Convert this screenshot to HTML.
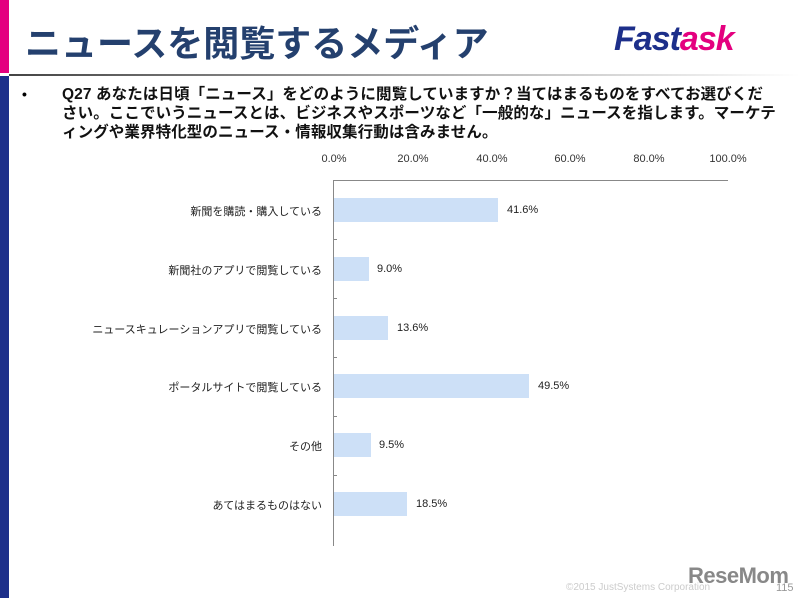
<!DOCTYPE html>
<html><head><meta charset="utf-8"><style>
body{margin:0;width:800px;height:598px;overflow:hidden;background:#fff;position:relative;font-family:"Liberation Sans","Noto Sans CJK JP",sans-serif}
.a{position:absolute}
.lab{position:absolute;right:478px;font-size:11px;color:#222;white-space:nowrap}
.bar{position:absolute;left:334px;height:24px;background:#cde0f7}
.val{position:absolute;font-size:11px;color:#222}
.tk{position:absolute;top:153px;font-size:11px;color:#333;width:60px;text-align:center}
</style></head><body>
<div class="a" style="left:0;top:0;width:9px;height:73px;background:#e4007f"></div>
<div class="a" style="left:0;top:76px;width:9px;height:522px;background:#1d2f8a"></div>
<div class="a" style="left:9px;top:74px;width:791px;height:2px;background:linear-gradient(90deg,#444,#aaa 50%,#fff)"></div>
<div class="a" style="left:25px;top:15px;font-size:36px;font-weight:bold;color:#24406e;letter-spacing:0px">ニュースを閲覧するメディア</div>
<div class="a" style="left:614px;top:20px;font-size:34px;font-weight:bold;letter-spacing:-1px;font-style:italic;font-family:'Liberation Sans',sans-serif"><span style="color:#1d2f8a">Fast</span><span style="color:#e4007f">ask</span></div>
<div class="a" style="left:22px;top:86px;font-size:14px;font-weight:bold">•</div>
<div class="a" style="left:62px;top:85px;width:740px;font-size:15.5px;letter-spacing:0.1px;font-weight:bold;line-height:19px;color:#111;white-space:nowrap">Q27 あなたは日頃「ニュース」をどのように閲覧していますか？当てはまるものをすべてお選びくだ<br>さい。ここでいうニュースとは、ビジネスやスポーツなど「一般的な」ニュースを指します。マーケテ<br>ィングや業界特化型のニュース・情報収集行動は含みません。</div>
<div class="tk" style="left:304px">0.0%</div><div class="tk" style="left:383px">20.0%</div><div class="tk" style="left:462px">40.0%</div><div class="tk" style="left:540px">60.0%</div><div class="tk" style="left:619px">80.0%</div><div class="tk" style="left:698px">100.0%</div>
<div class="a" style="left:333px;top:180px;width:395px;height:1px;background:#888"></div>
<div class="a" style="left:333px;top:180px;width:1px;height:366px;background:#888"></div>
<div class="a" style="left:333px;top:239px;width:4px;height:1px;background:#888"></div>
<div class="a" style="left:333px;top:298px;width:4px;height:1px;background:#888"></div>
<div class="a" style="left:333px;top:357px;width:4px;height:1px;background:#888"></div>
<div class="a" style="left:333px;top:416px;width:4px;height:1px;background:#888"></div>
<div class="a" style="left:333px;top:475px;width:4px;height:1px;background:#888"></div>
<div class="lab" style="top:203px">新聞を購読・購入している</div>
<div class="bar" style="top:198px;width:164px"></div><div class="val" style="left:507px;top:204px">41.6%</div>
<div class="lab" style="top:262px">新聞社のアプリで閲覧している</div>
<div class="bar" style="top:257px;width:35px"></div><div class="val" style="left:377px;top:263px">9.0%</div>
<div class="lab" style="top:321px">ニュースキュレーションアプリで閲覧している</div>
<div class="bar" style="top:316px;width:54px"></div><div class="val" style="left:397px;top:322px">13.6%</div>
<div class="lab" style="top:379px">ポータルサイトで閲覧している</div>
<div class="bar" style="top:374px;width:195px"></div><div class="val" style="left:538px;top:380px">49.5%</div>
<div class="lab" style="top:438px">その他</div>
<div class="bar" style="top:433px;width:37px"></div><div class="val" style="left:379px;top:439px">9.5%</div>
<div class="lab" style="top:497px">あてはまるものはない</div>
<div class="bar" style="top:492px;width:73px"></div><div class="val" style="left:416px;top:498px">18.5%</div>
<div class="a" style="left:566px;top:582px;font-size:10px;color:#ccc">©2015 JustSystems Corporation</div>
<div class="a" style="left:688px;top:563px;font-size:22px;font-weight:bold;color:#888;letter-spacing:-0.5px">ReseMom</div>
<div class="a" style="left:776px;top:582px;font-size:11px;color:#999">115</div>
</body></html>
